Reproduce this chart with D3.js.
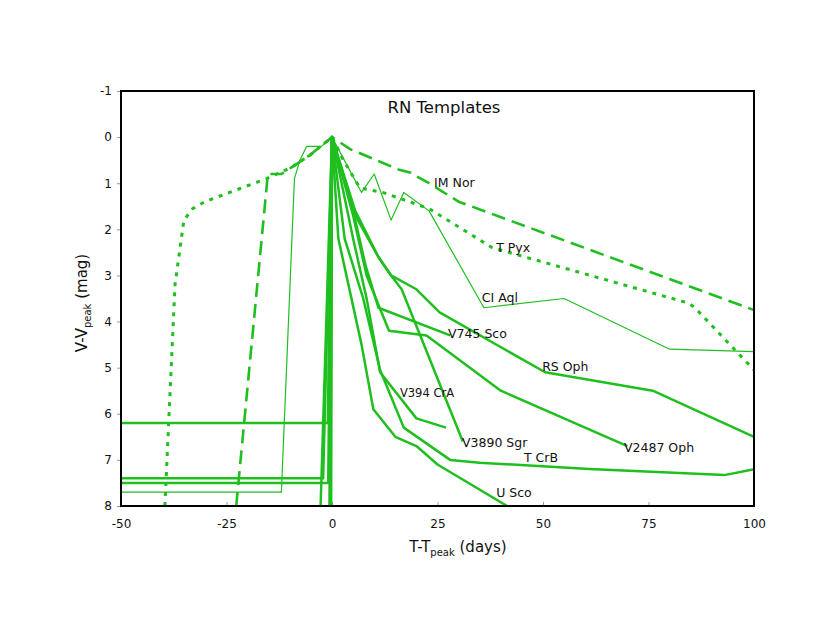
<!DOCTYPE html>
<html>
<head>
<meta charset="utf-8">
<script src="https://cdn.jsdelivr.net/npm/d3@7"></script>
<style>
  body { margin: 0; background: #fff; }
  text { font-family: "DejaVu Sans", Verdana, sans-serif; fill: #111; }
</style>
</head>
<body>
<svg id="chart" width="830" height="642"></svg>
<script>
/********************************************************
 ********************* Data *****************************
 ********************************************************/
// [day since peak, mag below peak]
var t_pyx = [[-39.6, 8], [-37.2, 3.2], [-35.1, 1.8], [-33, 1.55], [-30.1, 1.4], [-15.5, 0.9],
  [-9.5, 0.65], [-5.2, 0.39], [0, 0], [2.7, 0.5], [6.6, 1.1], [12, 1.2], [23, 1.55],
  [38, 2.4], [84.5, 3.6], [86, 3.7], [100, 5.05]];
var im_nor = [[-22.7, 8], [-15.2, 0.8], [-12, 0.8], [-9.5, 0.65], [-5.2, 0.39], [0, 0],
  [4.3, 0.26], [15.7, 0.7], [18.5, 0.77], [23, 1.0], [30, 1.4], [100, 3.75]];
var ci_aql = [[-50, 7.7], [-12, 7.7], [-8.9, 0.9], [-7.6, 0.5], [-6, 0.2], [-2.5, 0.2], [0, 0],
  [7, 1.2], [10, 0.8], [14, 1.8], [17, 1.2], [23, 1.6], [36, 3.7], [55, 3.5], [80, 4.6], [100, 4.65]];
var rs_oph = [[-50, 6.2], [-1, 6.2], [0, 0], [5.5, 1.6], [11, 2.6], [14, 3.0], [20, 3.3],
  [25.5, 3.8], [50.5, 5.1], [76, 5.5], [100, 6.5]];
var v745_sco = [[-2.7, 8], [0, 0], [5, 1.6], [8, 2.8], [11, 3.7], [28, 4.3]];
var v2487_oph = [[-50, 7.4], [-2.1, 7.4], [0, 0], [5, 1.7], [8.2, 3.0], [13.5, 4.2], [22.4, 4.3],
  [40, 5.5], [70, 6.7]];
var v3890_sgr = [[-0.2, 8], [0, 0], [5.5, 1.7], [11, 2.6], [14, 3.0], [16.5, 3.3], [31, 6.6]];
var v394_cra = [[-0.6, 8], [0, 0], [5, 2.2], [8.2, 3.5], [11.4, 5.1], [20, 6.1], [27, 6.3]];
var t_crb = [[-50, 7.5], [-0.9, 7.5], [0, 0], [3, 2.2], [7.4, 3.5], [11.4, 5.05], [17, 6.3],
  [28, 7.0], [35, 7.06], [61, 7.2], [93, 7.33], [100, 7.2]];
var u_sco = [[-0.4, 8], [0, 0], [1.5, 2.2], [2.7, 2.7], [7, 4.5], [9.8, 5.9], [15, 6.5],
  [20, 6.7], [25, 7.1], [41.5, 8]];

var x_ticks = [-50, -25, 0, 25, 50, 75, 100];
var y_ticks = [-1, 0, 1, 2, 3, 4, 5, 6, 7, 8];

// label name + anchor point (day, mag)
var label_names = ["IM Nor", "T Pyx", "CI Aql", "V745 Sco", "RS Oph", "V394 CrA",
  "V3890 Sgr", "V2487 Oph", "T CrB", "U Sco"];
var label_pos = [[24.2, 1.09], [38.9, 2.5], [35.5, 3.58], [27.5, 4.36], [49.8, 5.07],
  [16.1, 5.64], [30.8, 6.72], [69.2, 6.83], [45.5, 7.05], [38.9, 7.81]];

/********************************************************
 ********************* Chart ****************************
 ********************************************************/
var green = "#1fbf1f";
var series = [
  { pts: t_pyx, width: 3, dash: "4,6" },
  { pts: im_nor, width: 2.6, dash: "14,7" },
  { pts: ci_aql, width: 1.2, dash: null },
  { pts: rs_oph, width: 2.5, dash: null },
  { pts: v745_sco, width: 2.5, dash: null },
  { pts: v2487_oph, width: 2.5, dash: null },
  { pts: v3890_sgr, width: 2.5, dash: null },
  { pts: v394_cra, width: 2.5, dash: null },
  { pts: t_crb, width: 2.5, dash: null },
  { pts: u_sco, width: 2.5, dash: null }
];

var svg = d3.select("#chart");
var plot_l = 121, plot_r = 754, plot_t = 91, plot_b = 506;

var xScale = d3.scaleLinear().domain([-50, 100]).range([plot_l, plot_r]);
var yScale = d3.scaleLinear().domain([-1, 8]).range([plot_t, plot_b]);

svg.append("clipPath").attr("id", "plotclip")
  .append("rect")
  .attr("x", plot_l).attr("y", plot_t)
  .attr("width", plot_r - plot_l).attr("height", plot_b - plot_t);

// axes (gray ticks, left outside, bottom inside)
var yAxis = svg.append("g")
  .attr("transform", "translate(" + plot_l + ",0)")
  .call(d3.axisLeft(yScale).tickValues(y_ticks).tickSize(4).tickPadding(5)
    .tickFormat(function(d) { return String(d); }));
var xAxis = svg.append("g")
  .attr("transform", "translate(0," + plot_b + ")")
  .call(d3.axisBottom(xScale).tickValues(x_ticks).tickSize(-4).tickPadding(13)
    .tickFormat(function(d) { return String(d); }));

[xAxis, yAxis].forEach(function(ax) {
  ax.select(".domain").remove();
  ax.selectAll(".tick line").attr("stroke", "#999");
  ax.selectAll(".tick text")
    .style("font-family", "DejaVu Sans, Verdana, sans-serif")
    .style("font-size", "12px")
    .attr("fill", "#111");
});

var line = d3.line()
  .x(function(d) { return xScale(d[0]); })
  .y(function(d) { return yScale(d[1]); });

var plot = svg.append("g").attr("clip-path", "url(#plotclip)");
series.forEach(function(s) {
  plot.append("path")
    .attr("d", line(s.pts))
    .attr("fill", "none")
    .attr("stroke", green)
    .attr("stroke-width", s.width)
    .attr("stroke-linejoin", "round")
    .attr("stroke-dasharray", s.dash);
});

// frame
svg.append("rect")
  .attr("x", plot_l).attr("y", plot_t)
  .attr("width", plot_r - plot_l).attr("height", plot_b - plot_t)
  .attr("fill", "none")
  .attr("stroke", "#000")
  .attr("stroke-width", 2);

// curve labels
label_names.forEach(function(name, i) {
  svg.append("text")
    .attr("x", xScale(label_pos[i][0]))
    .attr("y", yScale(label_pos[i][1]))
    .style("font-size", name == "V394 CrA" ? "11.5px" : "12.5px")
    .text(name);
});

// title
svg.append("text")
  .attr("x", 444).attr("y", 113)
  .attr("text-anchor", "middle")
  .style("font-size", "16.5px")
  .text("RN Templates");

// x label
var xl = svg.append("text")
  .attr("x", 458).attr("y", 552)
  .attr("text-anchor", "middle")
  .style("font-size", "15px");
xl.append("tspan").text("T-T");
xl.append("tspan").attr("dy", 4).style("font-size", "10px").text("peak");
xl.append("tspan").attr("dy", -4).text(" (days)");

// y label
var yl = svg.append("text")
  .attr("transform", "translate(87,303) rotate(-90)")
  .attr("text-anchor", "middle")
  .style("font-size", "15px");
yl.append("tspan").text("V-V");
yl.append("tspan").attr("dy", 4).style("font-size", "10px").text("peak");
yl.append("tspan").attr("dy", -4).text(" (mag)");
</script>
</body>
</html>
